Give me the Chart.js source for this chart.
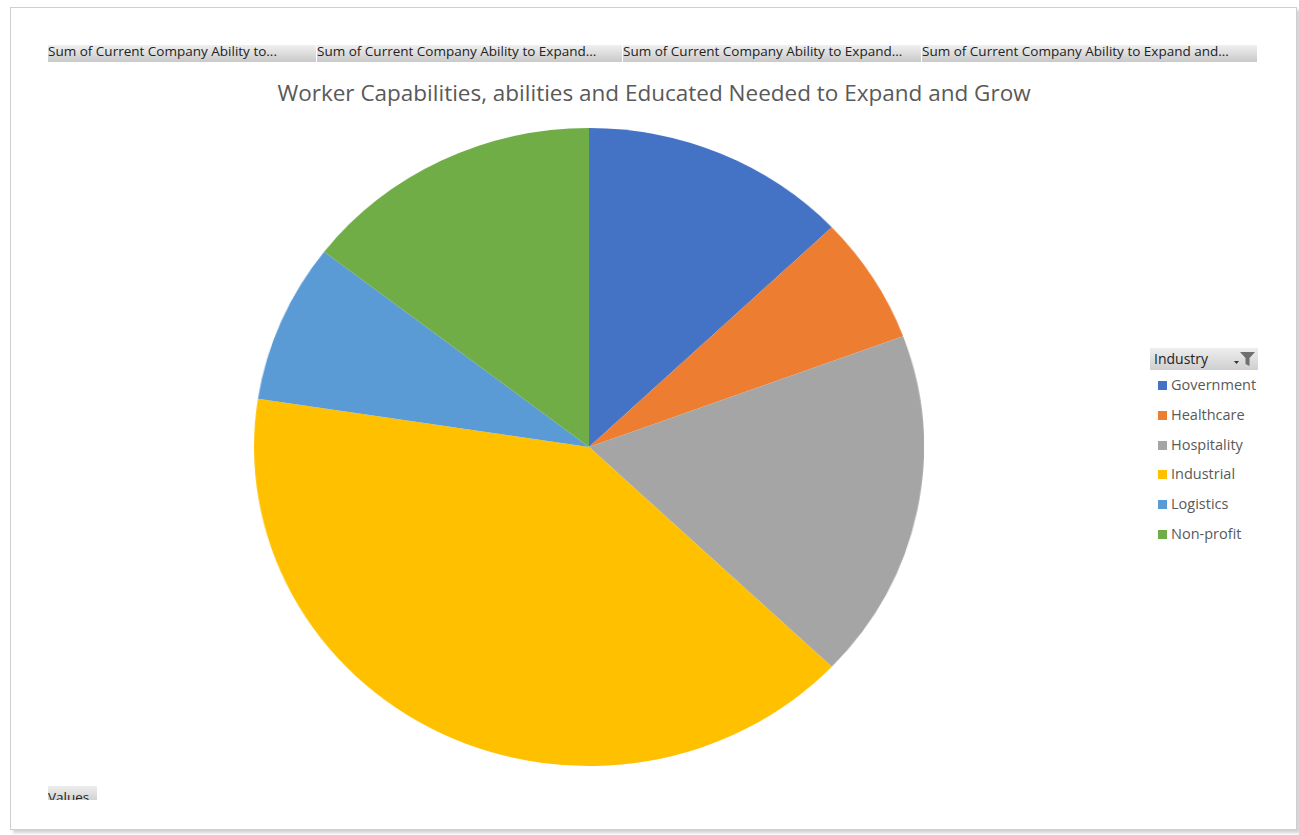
<!DOCTYPE html>
<html>
<head>
<meta charset="utf-8">
<script src="https://cdn.jsdelivr.net/npm/chart.js@4.4.0/dist/chart.umd.min.js"></script>
<style>
  html, body { margin: 0; padding: 0; background: #fff; width: 1299px; height: 835px; overflow: hidden; }
  body { font-family: "Open Sans", "Lato", sans-serif; position: relative; }
  #frame {
    position: absolute; left: 10px; top: 7px; width: 1285px; height: 821px;
    border: 1px solid #cfcfcf; background: #fff;
    box-shadow: 3px 3px 3px rgba(0,0,0,0.18);
  }
  .fieldBtn {
    position: absolute; top: 45px; height: 17px; line-height: 13px;
    background: linear-gradient(#f0f0f0, #c9c9c9);
    font-size: 13.5px; color: #222; white-space: nowrap; overflow: hidden;
    border-right: 1px solid #fff; box-sizing: border-box; padding-left: 0px;
  }
  #titulo {
    position: absolute; left: 0; width: 1308px; top: 77px; text-align: center;
    font-size: 22.5px; color: #595959;
  }
  #pieBox { position: absolute; left: 270px; top: 128px; width: 638px; height: 638px;
    transform: scaleX(1.05); transform-origin: 319px 319px; }
  #legendHead {
    position: absolute; left: 1150px; top: 348px; width: 108px; height: 22px;
    background: linear-gradient(#eeeeee, #cfcfcf); font-size: 14px; color: #222;
    line-height: 21px; box-sizing: border-box; padding-left: 4px;
  }
  .legItem { position: absolute; left: 1158px; font-size: 14.5px; color: #595959; line-height: 16px; }
  .legItem span.sw { display: inline-block; width: 9px; height: 9px; margin-right: 4px; vertical-align: 0px; }
  #valuesBtn {
    position: absolute; left: 48px; top: 786px; width: 49px; height: 14px; overflow: hidden;
    background: linear-gradient(#eeeeee, #d2d2d2); font-size: 13.5px; color: #222; line-height: 22px;
  }
</style>
</head>
<body>
<div id="frame"></div>
<div id="botones"></div>
<div id="titulo">Worker Capabilities, abilities and Educated Needed to Expand and Grow</div>
<div id="pieBox"><canvas id="chartPie" width="638" height="638"></canvas></div>
<div id="legendHead">Industry
  <svg width="24" height="16" style="position:absolute;right:2px;top:3px" viewBox="0 0 24 16">
    <path d="M2 10 L7 10 L4.5 13 Z" fill="#333"/>
    <path d="M8 1 L23 1 L17.5 7 L17.5 15 L13.5 13 L13.5 7 Z" fill="#6f6f6f"/>
  </svg>
</div>
<div id="leyenda"></div>
<div id="valuesBtn">Values</div>

<script>
var industrias = ["Government", "Healthcare", "Hospitality", "Industrial", "Logistics", "Non-profit"];
var valores = [16, 8, 22, 50, 10, 18];
var colores = ["#4472C4", "#ED7D31", "#A5A5A5", "#FFC000", "#5B9BD5", "#70AD47"];
var camposValores = [
    "Sum of Current Company Ability to...",
    "Sum of Current Company Ability to Expand...",
    "Sum of Current Company Ability to Expand...",
    "Sum of Current Company Ability to Expand and..."
];
var bordesBotones = [48, 317, 623, 922, 1258];

// botones de campos arriba
var divBotones = document.getElementById("botones");
for (var i = 0; i < camposValores.length; i++) {
    var b = document.createElement("div");
    b.className = "fieldBtn";
    b.style.left = bordesBotones[i] + "px";
    b.style.width = (bordesBotones[i + 1] - bordesBotones[i]) + "px";
    b.innerText = camposValores[i];
    divBotones.appendChild(b);
}

// leyenda
var divLeyenda = document.getElementById("leyenda");
industrias.forEach((nombre, pos) => {
    var it = document.createElement("div");
    it.className = "legItem";
    it.style.top = (377 + pos * 29.8) + "px";
    it.innerHTML = '<span class="sw" style="background:' + colores[pos] + '"></span>' + nombre;
    divLeyenda.appendChild(it);
});

let chart = new Chart("chartPie", {
    type: "pie",
    data: {
        labels: industrias,
        datasets: [{ data: valores, backgroundColor: colores, borderWidth: 0 }]
    },
    options: {
        responsive: false,
        animation: false,
        layout: { padding: 0 },
        plugins: { legend: { display: false }, tooltip: { enabled: false } }
    }
});
</script>
</body>
</html>
